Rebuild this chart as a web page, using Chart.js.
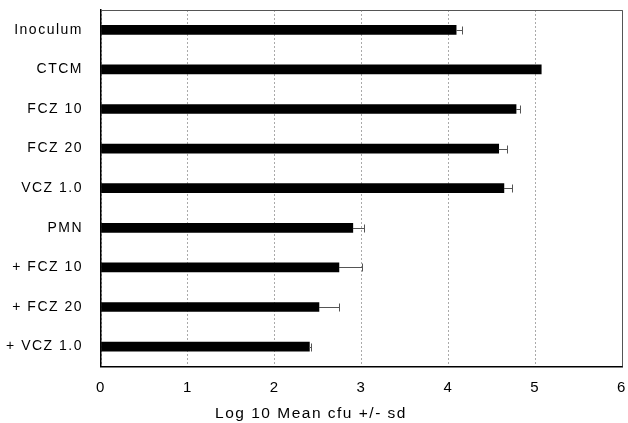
<!DOCTYPE html>
<html lang="en">
<head>
    <meta charset="UTF-8">
    <script src="https://cdn.jsdelivr.net/npm/chart.js"></script>
    <title>Log 10 Mean cfu</title>
    <style>
        html, body { margin: 0; padding: 0; background: #fff; }
        .chart-wrapper { position: relative; width: 628px; height: 423px; }
    </style>
</head>
<body>
    <div class="chart-wrapper">
        <canvas id="myChart"></canvas>
    </div>

    <script>
        const groups = ['Inoculum', 'CTCM', 'FCZ 10', 'FCZ 20', 'VCZ 1.0', 'PMN', '+ FCZ 10', '+ FCZ 20', '+ VCZ 1.0'];
        const meanCfu = [4.09, 5.07, 4.78, 4.58, 4.64, 2.90, 2.74, 2.51, 2.40];
        const sdCfu = [0.07, 0.0, 0.04, 0.09, 0.09, 0.13, 0.27, 0.23, 0.02];
        const xMin = 0, xMax = 6, xStep = 1;

        // error bars (+sd only) drawn through the chart scales
        const errorBars = {
            id: 'errorBars',
            afterDatasetsDraw(chart) {
                const { ctx, scales: { x, y } } = chart;
                ctx.save();
                ctx.strokeStyle = '#555';
                ctx.lineWidth = 1;
                meanCfu.forEach((v, i) => {
                    if (!sdCfu[i]) return;
                    const x0 = x.getPixelForValue(v);
                    const x1 = Math.round(x.getPixelForValue(v + sdCfu[i])) + 0.5;
                    const yc = Math.round(y.getPixelForValue(i)) + 0.5;
                    ctx.beginPath();
                    ctx.moveTo(x0, yc);
                    ctx.lineTo(x1, yc);
                    ctx.moveTo(x1, yc - 4);
                    ctx.lineTo(x1, yc + 4);
                    ctx.stroke();
                });
                ctx.restore();
            }
        };

        const frame = {
            id: 'frame',
            beforeDraw(chart) {
                chart.ctx.letterSpacing = '1.5px';
            },
            afterDatasetsDraw(chart) {
                const { ctx, chartArea: a } = chart;
                ctx.save();
                ctx.strokeStyle = '#555';
                ctx.lineWidth = 1;
                ctx.beginPath();
                ctx.moveTo(a.left, Math.round(a.top) + 0.5);
                ctx.lineTo(Math.round(a.right) + 0.5, Math.round(a.top) + 0.5);
                ctx.lineTo(Math.round(a.right) + 0.5, a.bottom);
                ctx.stroke();
                ctx.restore();
            }
        };

        const ctx = document.getElementById('myChart').getContext('2d');
        new Chart(ctx, {
            type: 'bar',
            data: {
                labels: groups,
                datasets: [{
                    data: meanCfu,
                    backgroundColor: '#000',
                    borderWidth: 0,
                    barThickness: 9
                }]
            },
            plugins: [frame, errorBars],
            options: {
                indexAxis: 'y',
                responsive: true,
                maintainAspectRatio: false,
                animation: false,
                layout: { padding: { left: 0, right: 6, top: 10, bottom: 0 } },
                plugins: {
                    legend: { display: false },
                    tooltip: { enabled: false },
                    title: {
                        display: true,
                        position: 'bottom',
                        text: 'Log 10 Mean cfu +/- sd',
                        color: '#000',
                        padding: { top: 0, bottom: 0 },
                        font: { family: 'Liberation Sans', size: 15.5, weight: 'normal' }
                    }
                },
                scales: {
                    x: {
                        min: xMin,
                        max: xMax,
                        afterFit: s => { s.height = 38; s.paddingLeft = 0; s.paddingRight = 0; },
                        border: { color: '#000', width: 1.5, dash: [2, 2] },
                        grid: {
                            display: true,
                            drawOnChartArea: true,
                            drawTicks: false,
                            color: '#aaa',
                            lineWidth: 1
                        },
                        ticks: {
                            stepSize: xStep,
                            color: '#000',
                            padding: 12,
                            font: { family: 'Liberation Sans', size: 15 }
                        }
                    },
                    y: {
                        afterFit: s => { s.width = 101; s.paddingTop = 0; s.paddingBottom = 0; },
                        border: { color: '#000', width: 1.5 },
                        grid: { display: false },
                        ticks: {
                            color: '#000',
                            padding: 10,
                            font: { family: 'Liberation Sans', size: 14 }
                        }
                    }
                }
            }
        });
    </script>
</body>
</html>
